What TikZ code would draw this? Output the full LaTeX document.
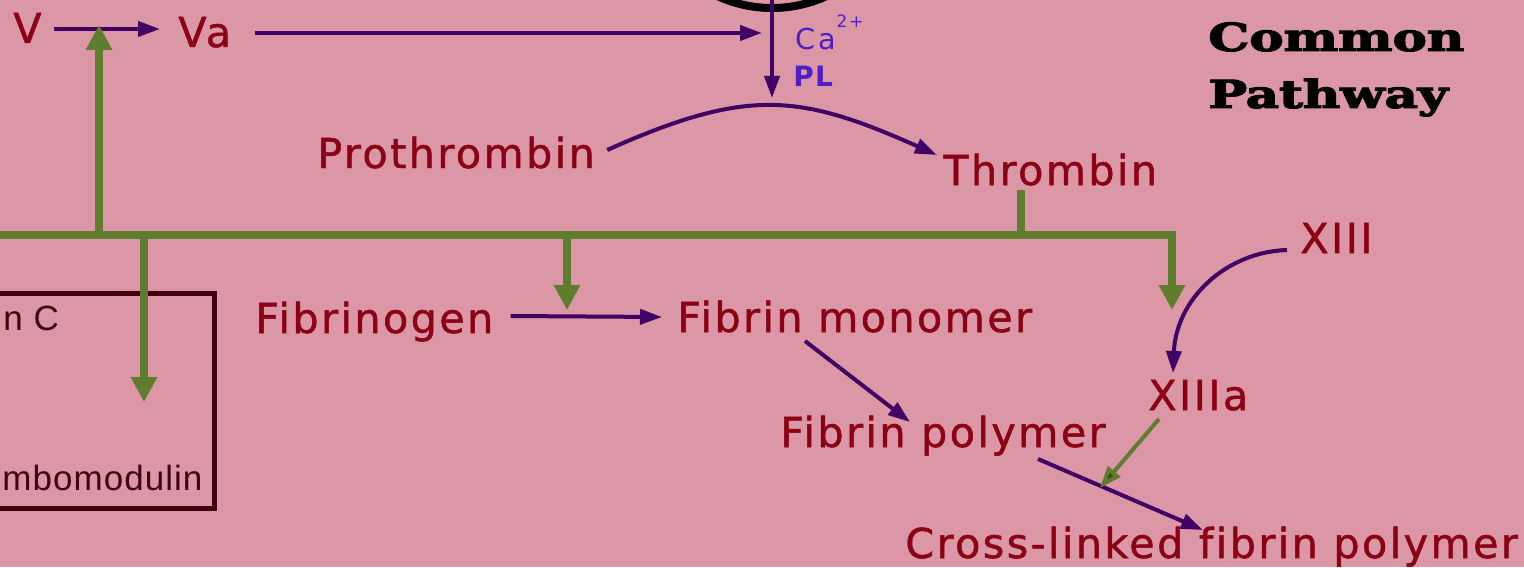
\documentclass[tikz,border=0pt]{standalone}
\usepackage{fontspec}
\setmainfont{DejaVu Sans}
\newfontfamily\labfont[LetterSpace=6,FakeBold=1.2,Ligatures=CommonOff]{DejaVu Sans}
\newfontfamily\boxfont[LetterSpace=3]{Liberation Sans}
\newfontfamily\cafont[LetterSpace=12]{DejaVu Sans}
\newfontfamily\plfont[LetterSpace=4]{DejaVu Sans}
\newfontfamily\titlefont[FakeBold=3]{DejaVu Serif}
\usetikzlibrary{arrows.meta,calc}
\definecolor{bgpink}{RGB}{219,151,165}
\definecolor{labred}{RGB}{139,0,20}
\definecolor{purp}{RGB}{64,0,100}
\definecolor{grn}{RGB}{94,126,46}
\definecolor{cablue}{RGB}{80,30,200}
\definecolor{boxc}{RGB}{64,0,16}
\tikzset{
  lab/.style={inner sep=0pt, anchor=base west, text=labred, font=\labfont\fontsize{20.6}{24}\selectfont},
  boxtxt/.style={inner sep=0pt, anchor=base west, text=boxc, font=\boxfont\fontsize{17.5}{20}\selectfont},
  parr/.style={draw=purp, line width=2pt, -{Triangle[length=11pt,width=7.5pt]}},
  gline/.style={draw=grn, line width=3.6pt},
  garr/.style={draw=grn, line width=3.6pt, -{Triangle[length=12.5pt,width=12.5pt]}},
}
\begin{document}
\begin{tikzpicture}[x=0.5pt,y=-0.5pt]
\fill[bgpink] (0,0) rectangle (1524,567);
\useasboundingbox (0,0) rectangle (1524,567);
\clip (0,0) rectangle (1524,567);

% top ring (partly outside)
\node[draw=black, line width=4pt, circle, minimum size=130pt, inner sep=0pt] (ring) at (772,-122) {};

% labels
\node[lab] (V) at (13,43) {V};
\node[lab] (Va) at (178,47) {Va};
\node[lab] (Pro) at (317,168) {Prothrombin};
\node[lab] (Thr) at (943,185) {Thrombin};
\node[lab] (Fgn) at (255,333) {Fibrinogen};
\node[lab] (Fmono) at (677,332) {Fibrin monomer};
\node[lab] (Fpol) at (780,447) {Fibrin polymer};
\node[lab] (Xl) at (905,558) {Cross-linked fibrin polymer};
\node[lab] (XIII) at (1300,253) {XIII};
\node[lab] (XIIIa) at (1148,410) {XIIIa};
\node[inner sep=0pt, anchor=base west, text=cablue, font=\cafont\fontsize{14.4}{16}\selectfont] (Ca) at (795,50) {Ca\raisebox{11pt}{\fontsize{8.5}{9}\selectfont 2+}};
\node[inner sep=0pt, anchor=base west, text=cablue, font=\plfont\bfseries\fontsize{14}{16}\selectfont] (PL) at (793,87) {PL};
\node[inner sep=0pt, anchor=north west, align=left, text=black, font=\titlefont\bfseries\fontsize{19.2}{28.5}\selectfont] (title) at (1208,22) {\scalebox{1.34}[1]{Common}\\\scalebox{1.34}[1]{Pathway}};

% inhibitor box
\node[draw=boxc, line width=2.5pt, rectangle, inner sep=0pt, minimum width=117.25pt, minimum height=107.25pt] (box) at (97.25,400.75) {};
\node[boxtxt] (pc) at (3,330) {n C};
\node[boxtxt] (tm) at (2,490) {mbomodulin};

% coordinates
\coordinate (j1) at (762,33);
\coordinate (peak) at (772,98);
\coordinate (busL) at (-10,235);
\coordinate (busR) at (1172,235);
\coordinate (g4) at (1172,310);
\coordinate (tb) at (1021,235);
\coordinate (gu0) at (99,235);
\coordinate (gu1) at (99,25);
\coordinate (gd0) at (144,235);
\coordinate (gd1) at (144,402);
\coordinate (gf0) at (567,235);
\coordinate (gf1) at (567,310);
\coordinate (x1) at (1100,488);

% purple reactions
\draw[parr] ($(V.base east)+(12,-14)$) -- ($(Va.base west)+(-18,-18)$);
\draw[parr] ($(Va.base east)+(23,-14)$) -- (j1);
\draw[parr] (ring.center) -- (peak);
\draw[parr] ($(Pro.base east)+(12,-18)$) .. controls (748,87) and (800,94) .. ($(Thr.base west)+(-6,-30)$);
\draw[parr] ($(Fgn.base east)+(17,-17)$) -- ($(Fmono.base west)+(-15,-15)$);
\draw[parr] ($(Fmono.base west)+(128,9)$) -- ($(Fpol.base west)+(130,-25)$);
\draw[parr] ($(Fpol.base west)+(258,12)$) -- ($(Xl.base west)+(298,-28)$);
\draw[parr] ($(XIII.base west)+(-13,-3)$) .. controls (1225,252) and (1176,300) .. ($(XIIIa.base west)+(25,-37)$);

% green thrombin actions
\draw[gline] ($(Thr.base west)+(78,5)$) -- (tb);
\draw[garr] (busL) -- (busR) -- (g4);
\draw[garr] (gu0) -- (gu1);
\draw[garr] (gd0) -- (gd1);
\draw[garr] (gf0) -- (gf1);
\draw[draw=grn, line width=2pt, -{Triangle[length=11pt,width=8pt,fill=grn!60!black]}] ($(XIIIa.base west)+(11,9)$) -- (x1);
\end{tikzpicture}
\end{document}
